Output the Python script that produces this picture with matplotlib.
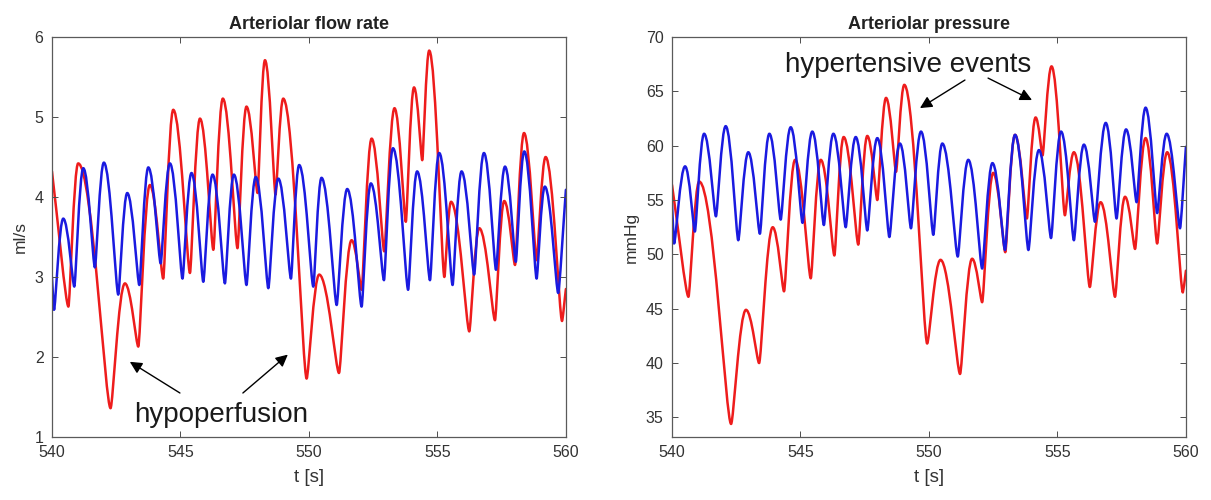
import matplotlib
matplotlib.use('Agg')
import matplotlib.pyplot as plt
from matplotlib.path import Path
from matplotlib.patches import PathPatch

plt.rcParams['font.family'] = ['Liberation Sans', 'DejaVu Sans']

# Turning points (time [s], value) of each trace.
# Arteriolar flow rate [ml/s]
flow_blue_t = [540.0, 540.08, 540.44, 540.87, 541.22, 541.67, 542.02, 542.58, 542.93, 543.40,
               543.75, 544.23, 544.59, 545.08, 545.43, 545.89, 546.25, 546.73, 547.08, 547.57,
               547.93, 548.42, 548.81, 549.30, 549.62, 550.17, 550.49, 551.08, 551.49, 552.05,
               552.41, 552.92, 553.27, 553.86, 554.21, 554.71, 555.07, 555.59, 555.94, 556.43,
               556.81, 557.28, 557.63, 558.05, 558.38, 558.86, 559.18, 559.70, 560.0]
flow_blue_v = [3.00, 2.59, 3.73, 2.88, 4.36, 3.12, 4.43, 2.78, 4.05, 2.90,
               4.37, 3.17, 4.42, 2.98, 4.30, 2.94, 4.28, 2.92, 4.28, 2.90,
               4.25, 2.86, 4.23, 2.98, 4.40, 2.88, 4.24, 2.65, 4.10, 2.63,
               4.17, 2.96, 4.61, 2.84, 4.32, 2.96, 4.55, 2.90, 4.32, 3.03,
               4.55, 3.09, 4.38, 3.19, 4.57, 2.98, 4.13, 2.80, 4.09]

flow_red_t = [540.0, 540.64, 541.02, 542.28, 542.84, 543.36, 543.81, 544.33, 544.72, 545.37,
              545.76, 546.28, 546.65, 547.22, 547.57, 548.00, 548.29, 548.70, 549.00, 549.91,
              550.40, 551.17, 551.66, 552.05, 552.44, 552.93, 553.33, 553.77, 554.09, 554.41,
              554.68, 555.27, 555.53, 556.24, 556.63, 557.24, 557.60, 558.02, 558.37, 558.86,
              559.21, 559.85, 560.0]
flow_red_v = [4.32, 2.63, 4.42, 1.36, 2.92, 2.13, 4.15, 2.98, 5.09, 3.05,
              4.98, 3.34, 5.23, 3.36, 5.13, 4.05, 5.71, 4.03, 5.23, 1.73,
              3.03, 1.80, 3.46, 2.84, 4.73, 3.32, 5.11, 3.69, 5.37, 4.46,
              5.83, 3.00, 3.94, 2.32, 3.61, 2.46, 3.95, 3.15, 4.80, 3.21,
              4.50, 2.45, 2.85]

# Arteriolar pressure [mmHg]
pres_blue_t = [540.0, 540.08, 540.51, 540.89, 541.25, 541.71, 542.09, 542.58, 542.97, 543.42,
               543.79, 544.23, 544.62, 545.08, 545.46, 545.91, 546.28, 546.76, 547.15, 547.60,
               547.99, 548.46, 548.87, 549.30, 549.69, 550.17, 550.52, 551.12, 551.53, 552.07,
               552.47, 552.96, 553.35, 553.87, 554.28, 554.75, 555.14, 555.64, 556.03, 556.46,
               556.88, 557.30, 557.67, 558.08, 558.43, 558.88, 559.25, 559.77, 560.0]
pres_blue_v = [54.7, 51.0, 58.1, 52.1, 61.1, 53.5, 61.8, 51.3, 59.4, 51.9,
               61.1, 53.2, 61.7, 52.9, 61.3, 52.7, 61.1, 52.5, 60.8, 52.2,
               60.7, 51.6, 60.2, 52.4, 61.3, 51.8, 60.2, 49.8, 58.7, 48.7,
               58.4, 50.4, 61.0, 50.4, 59.6, 51.5, 61.3, 51.3, 60.1, 53.0,
               62.1, 53.3, 61.5, 54.8, 63.5, 53.8, 61.1, 52.4, 59.9]

pres_red_t = [540.0, 540.64, 541.06, 542.30, 542.88, 543.39, 543.92, 544.36, 544.79, 545.40,
              545.79, 546.32, 546.68, 547.25, 547.60, 547.99, 548.33, 548.72, 549.04, 549.93,
              550.45, 551.21, 551.68, 552.07, 552.50, 552.97, 553.35, 553.81, 554.15, 554.42,
              554.77, 555.29, 555.64, 556.26, 556.68, 557.24, 557.63, 558.02, 558.43, 558.88,
              559.27, 559.88, 560.0]
pres_red_v = [56.4, 46.1, 56.7, 34.4, 44.9, 40.0, 52.5, 46.6, 58.7, 47.8,
              58.7, 49.9, 60.8, 50.9, 60.9, 55.0, 64.4, 57.6, 65.6, 41.8,
              49.5, 39.0, 49.6, 45.6, 57.5, 50.2, 61.0, 53.3, 62.6, 59.1,
              67.3, 53.6, 59.4, 47.0, 54.8, 46.1, 55.3, 50.5, 60.7, 51.0,
              59.4, 46.5, 48.5]

x_ticks = [540, 545, 550, 555, 560]
flow_ticks = [1, 2, 3, 4, 5, 6]
pres_ticks = [35, 40, 45, 50, 55, 60, 65, 70]


def turning_point_path(t, v, k_peak=0.43, k_trough=0.16):
    """Smooth Bezier path through the turning points (flat tangent at each extremum)."""
    n = len(t)
    kind = [None] * n
    for i in range(1, n - 1):
        kind[i] = 'peak' if (v[i] >= v[i - 1] and v[i] >= v[i + 1]) else 'trough'

    verts = [(t[0], v[0])]
    codes = [Path.MOVETO]
    for i in range(n - 1):
        dt = t[i + 1] - t[i]
        dv = v[i + 1] - v[i]
        if kind[i] is None:
            c1 = (t[i] + dt / 3, v[i] + dv / 3)
        else:
            k = k_peak if kind[i] == 'peak' else k_trough
            c1 = (t[i] + k * dt, v[i])
        if kind[i + 1] is None:
            c2 = (t[i + 1] - dt / 3, v[i + 1] - dv / 3)
        else:
            k = k_peak if kind[i + 1] == 'peak' else k_trough
            c2 = (t[i + 1] - k * dt, v[i + 1])
        verts += [c1, c2, (t[i + 1], v[i + 1])]
        codes += [Path.CURVE4, Path.CURVE4, Path.CURVE4]
    return Path(verts, codes)


def draw_trace(ax, t, v, color):
    patch = PathPatch(turning_point_path(t, v), facecolor='none', edgecolor=color,
                      linewidth=1.8, transform=ax.transData, capstyle='round',
                      joinstyle='round')
    ax.add_patch(patch)


def style_axes(ax, yticks, ylim, title, ylabel):
    ax.set_xlim(540, 560)
    ax.set_ylim(*ylim)
    ax.set_xticks(x_ticks)
    ax.set_yticks(yticks)
    ax.tick_params(direction='in', top=True, right=True, length=4, width=0.7,
                   color='#4d4d4d', labelcolor='#333333', labelsize=11.5, pad=6)
    for s in ax.spines.values():
        s.set_color('#5a5a5a')
        s.set_linewidth(0.9)
    ax.set_title(title, fontsize=13, fontweight='bold', color='#222222', pad=6)
    ax.set_ylabel(ylabel, fontsize=12.5, color='#333333', labelpad=5)
    ax.set_xlabel('t [s]', fontsize=13.5, color='#333333', labelpad=6)


fig = plt.figure(figsize=(12.11, 5.0), dpi=100)
ax1 = fig.add_axes([0.0429, 0.126, 0.4244, 0.80])
ax2 = fig.add_axes([0.5549, 0.126, 0.4244, 0.80])

# left panel: flow rate
draw_trace(ax1, flow_red_t, flow_red_v, '#ee1c1c')
draw_trace(ax1, flow_blue_t, flow_blue_v, '#1a1ae0')
style_axes(ax1, flow_ticks, (1, 6), 'Arteriolar flow rate', 'ml/s')

arrow = dict(arrowstyle='-|>', color='black', lw=1.0, mutation_scale=18,
             shrinkA=0, shrinkB=0)
ax1.text(546.6, 1.19, 'hypoperfusion', fontsize=20, ha='center', va='baseline',
         color='#1a1a1a')
ax1.annotate('', xy=(543.03, 1.94), xytext=(544.98, 1.55), arrowprops=arrow)
ax1.annotate('', xy=(549.18, 2.03), xytext=(547.43, 1.55), arrowprops=arrow)

# right panel: pressure
draw_trace(ax2, pres_red_t, pres_red_v, '#ee1c1c')
draw_trace(ax2, pres_blue_t, pres_blue_v, '#1a1ae0')
style_axes(ax2, pres_ticks, (33.2, 70), 'Arteriolar pressure', 'mmHg')

ax2.text(549.2, 66.78, 'hypertensive events', fontsize=20, ha='center', va='baseline',
         color='#1a1a1a')
ax2.annotate('', xy=(549.65, 63.46), xytext=(551.40, 66.04), arrowprops=arrow)
ax2.annotate('', xy=(554.01, 64.2), xytext=(552.30, 66.22), arrowprops=arrow)

fig.savefig('out.png', dpi=100, facecolor='white')
